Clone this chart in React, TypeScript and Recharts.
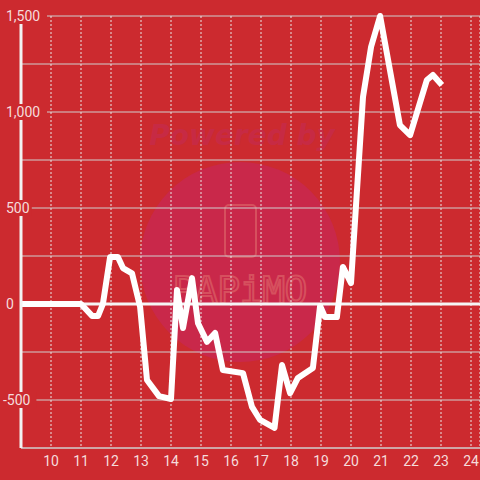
import { CartesianGrid, Line, LineChart, ReferenceLine, XAxis, YAxis } from 'recharts'

const BG = '#cc2a2f'
const LABEL = '#f5dcdc'

// x positions (hours) and values
const hours = [
  9, 11, 11.37, 11.57, 11.73, 11.97, 12.23, 12.4, 12.7, 12.97, 13.2, 13.6, 14.0, 14.2, 14.4, 14.7,
  14.9, 15.2, 15.47, 15.73, 16.4, 16.7, 16.97, 17.45, 17.7, 17.97, 18.23, 18.73, 18.97, 19.13,
  19.53, 19.73, 20.0, 20.4, 20.67, 20.97, 21.63, 21.97, 22.53, 22.73, 23.03,
]
const values = [
  0, 0, -62, -62, 0, 245, 245, 187, 160, -15, -396, -480, -495, 73, -125, 135, -100, -197, -151,
  -344, -360, -536, -604, -645, -318, -464, -385, -333, -10, -68, -68, 193, 109, 1078, 1340, 1500,
  932, 880, 1167, 1193, 1141,
]
const xTicks = [10, 11, 12, 13, 14, 15, 16, 17, 18, 19, 20, 21, 22, 23, 24]
const yTicks = [-750, -500, -250, 0, 250, 500, 750, 1000, 1250, 1500]
const yLabelled = [-500, 0, 500, 1000, 1500]

const data = hours.map((h, i) => ({ h, v: values[i] }))

const renderYTick = (props: any) => {
  const { y, payload } = props
  const v = Number(payload?.value)
  if (!yLabelled.includes(v)) return <g />
  const label = v.toLocaleString('en-US')
  const w = label.length * 7.6 + 4
  const x0 = v < 0 ? 3 : 6
  return (
    <g>
      <rect x={x0 - 1} y={y - 8} width={w} height={16} fill={BG} />
      <text x={x0} y={y} dy={5} fill={LABEL} fontSize={14} fontFamily="Roboto, sans-serif" textAnchor="start">
        {label}
      </text>
    </g>
  )
}

function Watermark() {
  return (
    <svg width={480} height={480} style={{ position: 'absolute', left: 0, top: 0 }}>
      <text
        x={242}
        y={145}
        textAnchor="middle"
        fontSize={28}
        fontWeight="bold"
        fontStyle="italic"
        fontFamily="DejaVu Sans, sans-serif"
        fill="#c72a44"
      >
        Powered by
      </text>
      <circle cx={240} cy={262} r={100} fill="#c9284a" />
      <rect x={225} y={205} width={31} height={52} rx={4} fill="none" stroke="#d6505e" strokeWidth={2} />
      <text
        x={240}
        y={303}
        textAnchor="middle"
        fontSize={38}
        fontFamily="DejaVu Sans Mono, monospace"
        textLength={135}
        fill="none"
        stroke="#d6505e"
        strokeWidth={2}
      >
        PAPiMO
      </text>
    </svg>
  )
}

export default function App() {
  return (
    <div style={{ position: 'absolute', left: 0, top: 0, width: 480, height: 480, background: BG, overflow: 'hidden' }}>
      <Watermark />
      <div style={{ position: 'absolute', left: 0, top: 0 }}>
        <LineChart width={480} height={480} data={data} margin={{ top: 16, right: 0, bottom: 0, left: 1 }}>
          <CartesianGrid vertical={false} stroke="#cfcfcf" strokeWidth={1} />
          <CartesianGrid horizontal={false} stroke="#e8e8e8" strokeDasharray="2 2" strokeWidth={1} />
          <XAxis
            dataKey="h"
            type="number"
            domain={[9, 24.3]}
            ticks={xTicks}
            allowDataOverflow
            height={32}
            tickLine={false}
            axisLine={{ stroke: '#cfcfcf' }}
            tick={{ fill: LABEL, fontSize: 14, fontFamily: 'Roboto, sans-serif' }}
          />
          <YAxis
            type="number"
            domain={[-750, 1500]}
            ticks={yTicks}
            interval={0}
            width={20}
            tickLine={false}
            tickSize={0}
            axisLine={{ stroke: '#f2f2f2', strokeWidth: 3 }}
            tick={renderYTick}
          />
          <ReferenceLine y={0} stroke="#f5f5f5" strokeWidth={3} />
          <Line
            dataKey="v"
            type="linear"
            stroke="#ffffff"
            strokeWidth={6}
            strokeLinejoin="round"
            dot={false}
            isAnimationActive={false}
          />
        </LineChart>
      </div>
    </div>
  )
}
